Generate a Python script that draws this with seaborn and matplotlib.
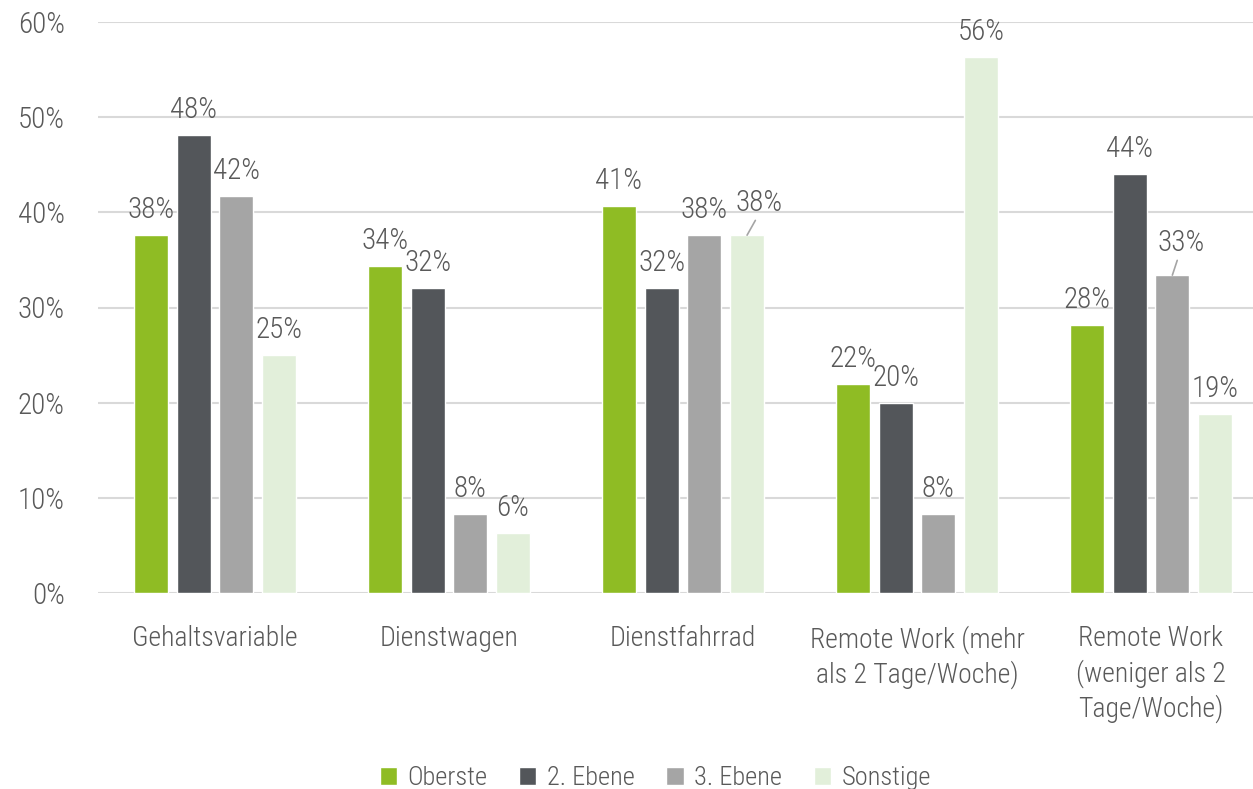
import matplotlib
matplotlib.use("Agg")
import matplotlib.pyplot as plt
import seaborn as sns
import pandas as pd

categories = ["Gehaltsvariable", "Dienstwagen", "Dienstfahrrad",
              "Remote Work (mehr\nals 2 Tage/Woche)",
              "Remote Work\n(weniger als 2\nTage/Woche)"]
series = ["Oberste", "2. Ebene", "3. Ebene", "Sonstige"]
oberste = [37.6, 34.4, 40.7, 22.0, 28.2]
ebene2 = [48.1, 32.0, 32.0, 20.0, 44.0]
ebene3 = [41.7, 8.3, 37.6, 8.3, 33.4]
sonstige = [25.0, 6.3, 37.6, 56.3, 18.8]
yticks = [0, 10, 20, 30, 40, 50, 60]

colors = ["#8fbc24", "#53565a", "#a5a5a5", "#e2efda"]
text_color = "#595959"

rows = []
for s, vals in zip(series, [oberste, ebene2, ebene3, sonstige]):
    for c, v in zip(categories, vals):
        rows.append({"Kategorie": c, "Gruppe": s, "Wert": v})
df = pd.DataFrame(rows)

sns.set_theme(style="white")
plt.rcParams["font.family"] = ["Roboto Condensed", "Open Sans Condensed",
                               "Liberation Sans Narrow", "Lato", "DejaVu Sans"]
plt.rcParams["font.stretch"] = "condensed"
plt.rcParams["font.weight"] = "light"
plt.rcParams["text.color"] = text_color
FS_NUM = 21
FS_CAT = 20
FS_LEG = 19

fig = plt.figure(figsize=(12.53, 7.89), dpi=100)
ax = fig.add_axes([98 / 1253, 196 / 789, 1 - 98 / 1253, (593 - 22) / 789])

sns.barplot(data=df, x="Kategorie", y="Wert", hue="Gruppe", hue_order=series,
            order=categories, palette=colors, width=0.73, gap=0.2,
            saturation=1, ax=ax, legend=True)

ax.set_xlim(-0.5, 4.5 - 15 / 234)
ax.set_ylim(0, 60)
ax.set_yticks(yticks)
ax.set_yticklabels([f"{t}%" for t in yticks])
ax.yaxis.grid(True, color="#d9d9d9", linewidth=1.5)
ax.set_axisbelow(True)
for sp in ax.spines.values():
    sp.set_visible(False)
ax.set_xlabel("")
ax.set_ylabel("")
ax.tick_params(axis="y", length=0, pad=24, labelsize=FS_NUM, labelcolor=text_color)
ax.tick_params(axis="x", length=0, pad=23, labelsize=FS_CAT, labelcolor=text_color)
for lab in ax.get_xticklabels():
    lab.set_linespacing(1.32)

# label nudges (points) for special cases: (series index, category index) -> (dx, dy, leader)
nudges = {(3, 2): (9, 13, True), (2, 4): (6, 13, True)}
for si, cont in enumerate(ax.containers):
    for ci, bar in enumerate(cont):
        v = bar.get_height()
        x = bar.get_x() + bar.get_width() / 2
        dx, dy, leader = nudges.get((si, ci), (0, 8, False))
        if leader:
            ax.annotate(f"{v:.0f}%", xy=(x, v), xytext=(dx, dy), textcoords="offset points",
                        ha="center", va="bottom", fontsize=FS_NUM, color=text_color,
                        arrowprops=dict(arrowstyle="-", color="#a5a5a5", lw=1.2,
                                        shrinkA=0, shrinkB=0, relpos=(0.45, 0.0)))
        else:
            ax.annotate(f"{v:.0f}%", xy=(x, v), xytext=(dx, dy), textcoords="offset points",
                        ha="center", va="bottom", fontsize=FS_NUM, color=text_color)

handles, labels = ax.get_legend_handles_labels()
ax.get_legend().remove()
fig.legend(handles, labels, loc="center", bbox_to_anchor=(0.523, 11 / 789), ncol=4,
           frameon=False, fontsize=FS_LEG, handlelength=0.65, handleheight=0.65,
           columnspacing=1.2, handletextpad=0.4, labelcolor=text_color)

fig.savefig("out.png", dpi=100)
